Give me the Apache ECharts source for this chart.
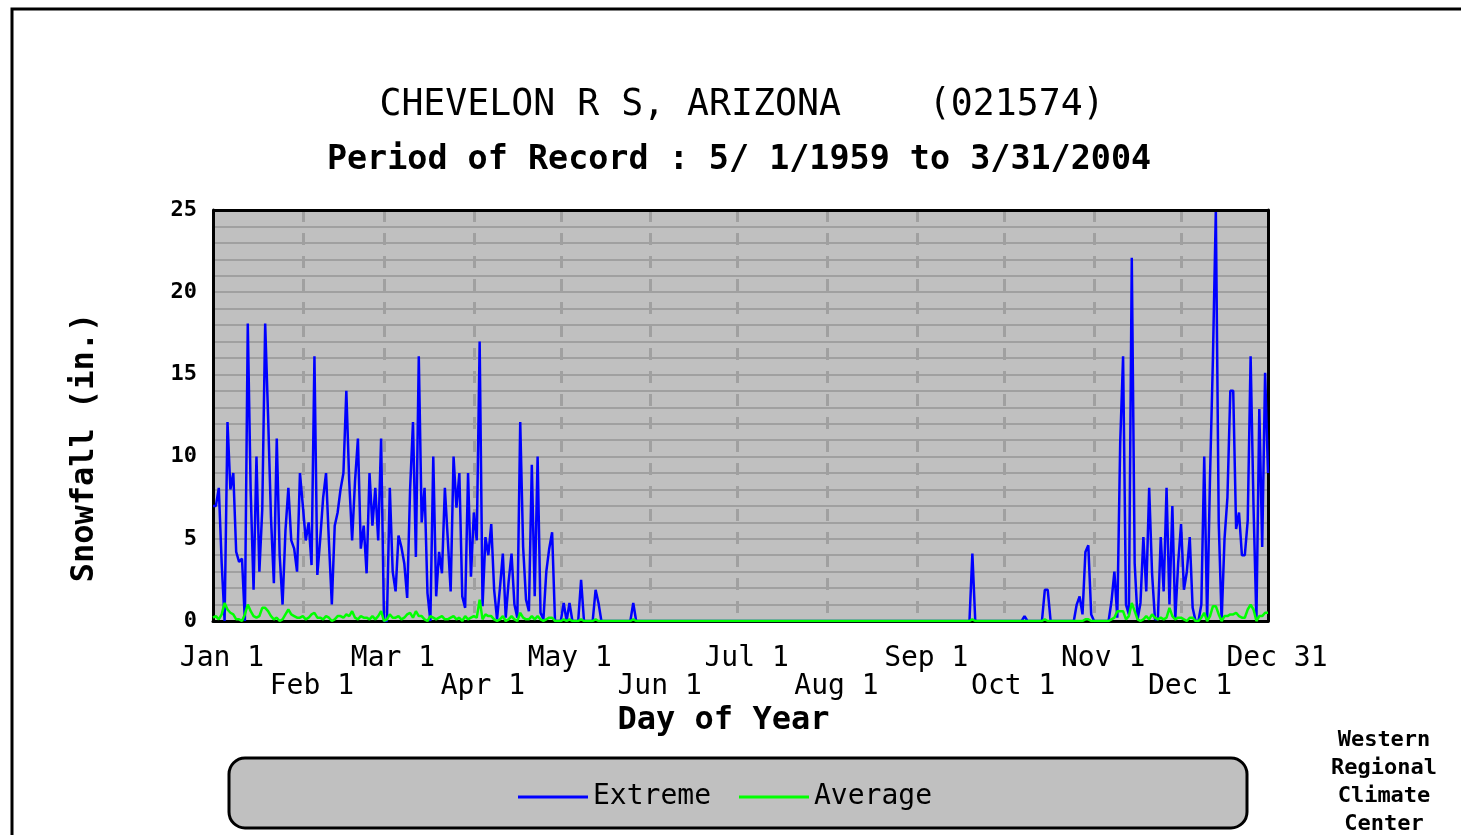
<!DOCTYPE html>
<html>
<head>
<meta charset="utf-8">
<title>CHEVELON R S, ARIZONA snowfall</title>
<script src="https://cdn.jsdelivr.net/npm/echarts@6/dist/echarts.min.js"></script>
<style>
  html, body { margin: 0; padding: 0; background: #fff; }
  #chart { width: 1461px; height: 835px; }
</style>
</head>
<body>
<div id="chart"></div>
<script>
// day index 0 = Jan 1, 364 = Dec 31
var tickDays = [0, 31, 59, 90, 120, 151, 181, 212, 243, 273, 304, 334, 364];
var tickLabels = ['Jan 1', 'Feb 1', 'Mar 1', 'Apr 1', 'May 1', 'Jun 1', 'Jul 1',
                  'Aug 1', 'Sep 1', 'Oct 1', 'Nov 1', 'Dec 1', 'Dec 31'];
var yMax = 25;

// extreme daily snowfall (in.), one line per month
var extreme = [
  7.0, 7.0, 8.1, 3.5, 0.0, 12.1, 8.0, 9.0, 4.2, 3.6, 3.8, 0.0, 18.1, 7.9, 1.9, 10.0, 3.0, 6.8, 18.1, 12.5, 6.3, 2.3, 11.1, 4.0, 1.0, 5.5, 8.1, 4.9, 4.4, 3.0, 9.0,
  7.0, 4.9, 6.0, 3.4, 16.1, 2.8, 5.0, 7.5, 9.0, 4.8, 1.0, 5.8, 6.6, 8.0, 9.0, 14.0, 8.5, 4.9, 8.5, 11.1, 4.4, 5.8, 2.9, 9.0, 5.8, 8.1, 4.9, 11.1,
  0.0, 0.0, 8.1, 3.0, 1.8, 5.2, 4.5, 3.5, 1.4, 8.0, 12.1, 3.9, 16.1, 6.0, 8.1, 1.7, 0.0, 10.0, 1.5, 4.2, 2.9, 8.1, 5.0, 1.8, 10.0, 6.9, 9.0, 1.5, 0.8, 9.0, 2.7,
  6.6, 4.9, 17.0, 0.9, 5.1, 4.0, 5.9, 1.9, 0.1, 2.0, 4.1, 0.2, 2.4, 4.1, 1.0, 0.2, 12.1, 4.5, 1.3, 0.6, 9.5, 1.5, 10.0, 0.5, 0.1, 3.0, 4.4, 5.4, 0.0, 0.0,
  0, 1.1, 0, 1.1, 0, 0, 0, 2.5, 0, 0, 0, 0, 1.9, 1.1, 0, 0, 0, 0, 0, 0, 0, 0, 0, 0, 0, 1.1, 0, 0, 0, 0, 0,
  0, 0, 0, 0, 0, 0, 0, 0, 0, 0, 0, 0, 0, 0, 0, 0, 0, 0, 0, 0, 0, 0, 0, 0, 0, 0, 0, 0, 0, 0,
  0, 0, 0, 0, 0, 0, 0, 0, 0, 0, 0, 0, 0, 0, 0, 0, 0, 0, 0, 0, 0, 0, 0, 0, 0, 0, 0, 0, 0, 0, 0,
  0, 0, 0, 0, 0, 0, 0, 0, 0, 0, 0, 0, 0, 0, 0, 0, 0, 0, 0, 0, 0, 0, 0, 0, 0, 0, 0, 0, 0, 0, 0,
  0, 0, 0, 0, 0, 0, 0, 0, 0, 0, 0, 0, 0, 0, 0, 0, 0, 0, 0, 4.1, 0, 0, 0, 0, 0, 0, 0, 0, 0, 0,
  0, 0, 0, 0, 0, 0, 0, 0.3, 0, 0, 0, 0, 0, 0, 1.9, 1.9, 0, 0, 0, 0, 0, 0, 0, 0, 0, 1.0, 1.5, 0.4, 4.2, 4.6, 0.4,
  0, 0, 0, 0, 0, 0, 1.2, 3.0, 0.2, 10.8, 16.1, 1.0, 0.4, 22.1, 3.5, 0.1, 1.1, 5.1, 1.8, 8.1, 2.9, 0.1, 0.1, 5.1, 1.8, 8.1, 1.0, 7.0, 0.1, 3.5,
  5.9, 1.9, 3.0, 5.1, 0.8, 0, 0, 1.0, 10.0, 0, 8.8, 16.0, 25.0, 6.0, 0, 5.0, 7.5, 14.0, 14.0, 5.6, 6.6, 4.0, 4.0, 6.1, 16.1, 7.0, 0, 12.9, 4.5, 15.1, 9.0
];

// average daily snowfall (in.), one line per month
var average = [
  0.2, 0.3, 0.1, 0.4, 1.1, 0.7, 0.5, 0.4, 0.1, 0.1, 0.0, 0.4, 1.0, 0.6, 0.3, 0.2, 0.3, 0.8, 0.8, 0.6, 0.3, 0.1, 0.2, 0.0, 0.1, 0.4, 0.7, 0.4, 0.3, 0.2, 0.2,
  0.3, 0.1, 0.2, 0.4, 0.5, 0.2, 0.2, 0.1, 0.3, 0.2, 0.0, 0.1, 0.3, 0.3, 0.2, 0.4, 0.3, 0.6, 0.2, 0.1, 0.3, 0.2, 0.2, 0.1, 0.3, 0.1, 0.3, 0.6,
  0.0, 0.1, 0.4, 0.2, 0.2, 0.3, 0.1, 0.2, 0.4, 0.5, 0.2, 0.6, 0.3, 0.3, 0.1, 0.0, 0.3, 0.2, 0.1, 0.2, 0.3, 0.1, 0.1, 0.2, 0.3, 0.1, 0.2, 0.0, 0.3, 0.1, 0.2,
  0.3, 0.2, 1.3, 0.1, 0.4, 0.3, 0.3, 0.1, 0.0, 0.1, 0.3, 0.0, 0.1, 0.3, 0.1, 0.0, 0.5, 0.2, 0.1, 0.1, 0.3, 0.1, 0.3, 0.1, 0.0, 0.1, 0.2, 0.2, 0.0, 0.0,
  0, 0.1, 0, 0.1, 0, 0, 0, 0.1, 0, 0, 0, 0, 0.1, 0, 0, 0, 0, 0, 0, 0, 0, 0, 0, 0, 0, 0.1, 0, 0, 0, 0, 0,
  0, 0, 0, 0, 0, 0, 0, 0, 0, 0, 0, 0, 0, 0, 0, 0, 0, 0, 0, 0, 0, 0, 0, 0, 0, 0, 0, 0, 0, 0,
  0, 0, 0, 0, 0, 0, 0, 0, 0, 0, 0, 0, 0, 0, 0, 0, 0, 0, 0, 0, 0, 0, 0, 0, 0, 0, 0, 0, 0, 0, 0,
  0, 0, 0, 0, 0, 0, 0, 0, 0, 0, 0, 0, 0, 0, 0, 0, 0, 0, 0, 0, 0, 0, 0, 0, 0, 0, 0, 0, 0, 0, 0,
  0, 0, 0, 0, 0, 0, 0, 0, 0, 0, 0, 0, 0, 0, 0, 0, 0, 0, 0, 0.1, 0, 0, 0, 0, 0, 0, 0, 0, 0, 0,
  0, 0, 0, 0, 0, 0, 0, 0, 0, 0, 0, 0, 0, 0, 0.1, 0, 0, 0, 0, 0, 0, 0, 0, 0, 0, 0, 0, 0, 0.1, 0.1, 0,
  0, 0, 0, 0, 0, 0, 0.1, 0.2, 0.6, 0.6, 0.6, 0.1, 0.3, 1.1, 0.6, 0.1, 0.0, 0.1, 0.3, 0.1, 0.4, 0.2, 0.1, 0.2, 0.1, 0.2, 0.8, 0.3, 0.1, 0.2,
  0.2, 0.1, 0.0, 0.2, 0.2, 0.0, 0.0, 0.2, 0.5, 0.0, 0.3, 0.9, 0.9, 0.4, 0.0, 0.3, 0.3, 0.4, 0.4, 0.5, 0.3, 0.2, 0.2, 0.7, 1.0, 0.7, 0.0, 0.3, 0.3, 0.5, 0.5
];

var days = [];
for (var i = 0; i < extreme.length; i++) days.push(String(i));

var mono = '"DejaVu Sans Mono", "Liberation Mono", monospace';

// month labels alternate between two rows: row 0 = Jan, Mar, ..., Dec 31; row 1 = Feb, Apr, ..., Dec 1
function monthAxis(row) {
  return {
    type: 'category', data: days, boundaryGap: false, position: 'bottom',
    offset: row * 28,
    axisLine: { show: false },
    axisTick: { show: false },
    axisLabel: {
      interval: function (index) {
        var k = tickDays.indexOf(index);
        return k >= 0 && k % 2 === row;
      },
      formatter: function (value) {
        var k = tickDays.indexOf(Number(value));
        return k >= 0 && k % 2 === row ? tickLabels[k] : '';
      },
      hideOverlap: false,
      fontFamily: mono, fontSize: 28, color: '#000',
      margin: 24, padding: [0, 0, 0, 18]
    },
    splitLine: { show: false }
  };
}

var row0 = monthAxis(0);
row0.axisLabel.showMinLabel = true;
row0.axisLabel.showMaxLabel = true;
row0.splitLine = {
  show: true,
  interval: function (index) { return index > 0 && index < 364 && tickDays.indexOf(index) >= 0; },
  lineStyle: { color: '#a0a0a0', width: 3, type: [12, 11] }
};
row0.name = 'Day of Year';
row0.nameLocation = 'middle';
row0.nameGap = 84;
row0.nameTextStyle = { fontFamily: mono, fontSize: 32, fontWeight: 'bold', color: '#000', padding: [0, 34, 0, 0] };

var row1 = monthAxis(1);

var chart = echarts.init(document.getElementById('chart'));

var option = {
  backgroundColor: '#ffffff',
  animation: false,
  title: [
    {
      text: 'CHEVELON R S, ARIZONA    (021574)',
      left: 737, top: 82, textAlign: 'center',
      textStyle: { fontFamily: mono, fontSize: 36.5, fontWeight: 'normal', color: '#000' }
    },
    {
      text: 'Period of Record : 5/ 1/1959 to 3/31/2004',
      left: 734, top: 139, textAlign: 'center',
      textStyle: { fontFamily: mono, fontSize: 33.4, fontWeight: 'bold', color: '#000' }
    }
  ],
  grid: {
    left: 213, right: 193, top: 210, bottom: 214,
    show: true, backgroundColor: '#c0c0c0', borderWidth: 0
  },
  legend: {
    left: 513, top: 778,
    itemWidth: 70, itemHeight: 3, itemGap: 28, icon: 'rect',
    textStyle: { fontFamily: mono, fontSize: 28, color: '#000' },
    data: ['Extreme', 'Average']
  },
  graphic: [
    {
      type: 'rect', z: 0, silent: true,
      shape: { x: 12, y: 9, width: 1600, height: 1000 },
      style: { fill: 'none', stroke: '#000', lineWidth: 3 }
    },
    {
      type: 'rect', z: 0, silent: true,
      shape: { x: 229, y: 758, width: 1018, height: 70, r: 16 },
      style: { fill: '#c0c0c0', stroke: '#000', lineWidth: 3 }
    },
    {
      type: 'group', silent: true,
      children: ['Western', 'Regional', 'Climate', 'Center'].map(function (t, k) {
        return {
          type: 'text',
          style: {
            text: t, x: 1384, y: 740 + k * 28,
            textAlign: 'center', textVerticalAlign: 'middle',
            font: 'bold 22px ' + mono, fill: '#000'
          }
        };
      })
    }
  ],
  xAxis: [
    row0,
    {
      type: 'category', data: days, boundaryGap: false, position: 'top',
      axisLine: { show: true, lineStyle: { color: '#000', width: 3 } },
      axisTick: { show: false }, axisLabel: { show: false }, splitLine: { show: false }
    },
    row1
  ],
  yAxis: [
    {
      type: 'value', min: 0, max: yMax, interval: 5, position: 'left',
      axisLine: { show: true, lineStyle: { color: '#000', width: 3 } },
      axisTick: { show: false },
      axisLabel: { fontFamily: mono, fontSize: 22, fontWeight: 'bold', color: '#000', margin: 16 },
      splitLine: { show: true, lineStyle: { color: '#a0a0a0', width: 2 } },
      minorTick: { show: false, splitNumber: 5 },
      minorSplitLine: { show: true, lineStyle: { color: '#a0a0a0', width: 2 } },
      name: 'Snowfall (in.)', nameLocation: 'middle', nameGap: 112, nameRotate: 90,
      nameTextStyle: { fontFamily: mono, fontSize: 32, fontWeight: 'bold', color: '#000', padding: [0, 64, 0, 0] }
    },
    {
      type: 'value', min: 0, max: yMax, interval: 5, position: 'right',
      axisLine: { show: true, lineStyle: { color: '#000', width: 3 } },
      axisTick: { show: false }, axisLabel: { show: false }, splitLine: { show: false }
    }
  ],
  series: [
    {
      name: 'Extreme', type: 'line', data: extreme,
      symbol: 'none', showSymbol: false,
      lineStyle: { color: '#0000ff', width: 2.5 }, itemStyle: { color: '#0000ff' },
      // solid black frame line along the top of the plot
      markLine: {
        silent: true, symbol: 'none', label: { show: false }, animation: false,
        lineStyle: { color: '#000', width: 3, type: 'solid' },
        data: [{ yAxis: yMax }]
      }
    },
    {
      name: 'Average', type: 'line', data: average,
      symbol: 'none', showSymbol: false,
      lineStyle: { color: '#00ff00', width: 2.5 }, itemStyle: { color: '#00ff00' }
    }
  ]
};

chart.setOption(option);
</script>
</body>
</html>
